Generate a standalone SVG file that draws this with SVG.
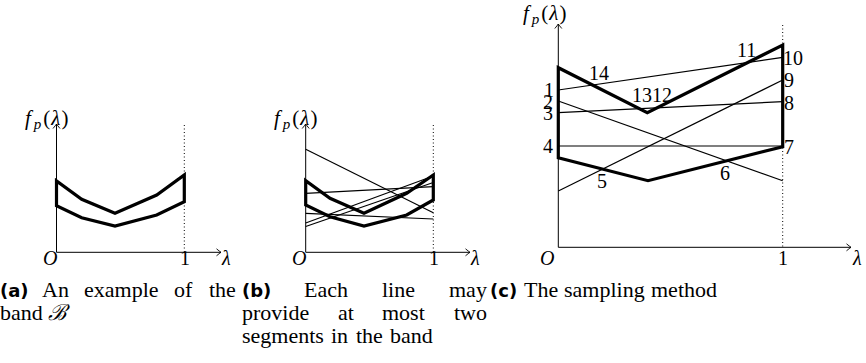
<svg xmlns="http://www.w3.org/2000/svg" width="866" height="363" viewBox="0 0 866 363">
<defs>
<marker id="arr" markerWidth="10" markerHeight="10" refX="0" refY="0" viewBox="-6 -5 8 10" orient="auto" markerUnits="userSpaceOnUse">
<path d="M-4.5,-3.5 Q-1.5,-1 0,0 Q-1.5,1 -4.5,3.5" fill="none" stroke="#000" stroke-width="0.9"/>
</marker>
<style>
.ax{stroke:#000;stroke-width:1;fill:none}
.dot{stroke:#000;stroke-width:1;stroke-dasharray:1 2.5;fill:none}
.thin{stroke:#000;stroke-width:1.2;fill:none}
.thick{stroke:#000;stroke-width:3.2;fill:none;stroke-linejoin:miter}
.lb{font-family:"Liberation Serif",serif;font-size:20px;fill:#000}
.fl{font-family:"Liberation Serif",serif;font-size:21px;fill:#000}
.it{font-style:italic}
.cap{font-family:"Liberation Serif",serif;font-size:22px;fill:#000}
.bf{font-family:"DejaVu Sans","Liberation Sans",sans-serif;font-weight:bold;font-size:18px}
</style>
</defs>

<!-- Panel a -->
<g id="panel-a">
<line class="dot" x1="184.3" y1="125" x2="184.3" y2="252.3"/>
<line class="ax" x1="56.5" y1="252.3" x2="56.5" y2="124" marker-end="url(#arr)"/>
<line class="ax" x1="56.5" y1="252.3" x2="221" y2="252.3" marker-end="url(#arr)"/>
<path class="thick" d="M56.5,205.7 L56.5,181 L81.7,199.3 L115,213.3 L156.7,195 L184.3,175 L184.3,201.7 L156.7,215 L115,226 L81.7,217.7 Z"/>
<text class="fl" x="25" y="125"><tspan class="it">f</tspan><tspan class="it" font-size="15" dx="3" dy="4">p</tspan><tspan dx="2" dy="-4">(</tspan><tspan class="it" dx="1">λ</tspan><tspan dx="1">)</tspan></text>
<text class="lb it" x="43" y="265">O</text>
<text class="lb" x="180" y="265">1</text>
<text class="lb it" x="222" y="265">λ</text>
</g>

<!-- Panel b -->
<g id="panel-b">
<line class="dot" x1="433.3" y1="125" x2="433.3" y2="252.3"/>
<line class="ax" x1="305.7" y1="252.3" x2="305.7" y2="124" marker-end="url(#arr)"/>
<line class="ax" x1="305.7" y1="252.3" x2="470" y2="252.3" marker-end="url(#arr)"/>
<path class="thick" d="M305.7,205 L305.7,180.7 L330,198.3 L364,213.3 L406.7,193.3 L433.3,175 L433.3,200 L406.7,215 L364,226 L330,216.7 Z"/>
<g id="lines-b">
<line class="thin" x1="305.7" y1="149.3" x2="433.3" y2="212.7"/>
<line class="thin" x1="305.7" y1="193.3" x2="433.3" y2="186.7"/>
<line class="thin" x1="305.7" y1="213.3" x2="433.3" y2="219"/>
<line class="thin" x1="305.7" y1="226.5" x2="433.3" y2="182.5"/>
<line class="thin" x1="305.7" y1="223" x2="433.3" y2="176"/>
</g>
<text class="fl" x="274" y="125"><tspan class="it">f</tspan><tspan class="it" font-size="15" dx="3" dy="4">p</tspan><tspan dx="2" dy="-4">(</tspan><tspan class="it" dx="1">λ</tspan><tspan dx="1">)</tspan></text>
<text class="lb it" x="292" y="265">O</text>
<text class="lb" x="429" y="265">1</text>
<text class="lb it" x="471" y="265">λ</text>
</g>

<!-- Panel c -->
<g id="panel-c">
<line class="dot" x1="782.7" y1="25" x2="782.7" y2="247.3"/>
<line class="ax" x1="558.3" y1="247.3" x2="558.3" y2="24" marker-end="url(#arr)"/>
<line class="ax" x1="558.3" y1="247.3" x2="851" y2="247.3" marker-end="url(#arr)"/>
<g id="lines-c">
<line class="thin" x1="558.3" y1="90" x2="782.7" y2="57.3"/>
<line class="thin" x1="558.3" y1="101" x2="782.7" y2="180.7"/>
<line class="thin" x1="558.3" y1="112.7" x2="782.7" y2="101.7"/>
<line class="thin" x1="558.3" y1="191" x2="782.7" y2="80"/>
<line class="thin" x1="558.3" y1="146" x2="782.7" y2="146"/>
</g>
<path class="thick" d="M558.3,157.7 L558.3,67.7 L647.3,112.7 L782.7,45 L782.7,146.7 L648,180.7 Z"/>
<text class="fl" x="523" y="20"><tspan class="it">f</tspan><tspan class="it" font-size="15" dx="3" dy="4">p</tspan><tspan dx="2" dy="-4">(</tspan><tspan class="it" dx="1">λ</tspan><tspan dx="1">)</tspan></text>
<text class="lb it" x="540" y="265">O</text>
<text class="lb" x="778" y="265">1</text>
<text class="lb it" x="853" y="265">λ</text>
<g id="labels-c">
<text class="lb" x="544" y="97">1</text>
<text class="lb" x="543" y="109">2</text>
<text class="lb" x="543" y="120">3</text>
<text class="lb" x="543" y="153">4</text>
<text class="lb" x="597" y="188">5</text>
<text class="lb" x="720" y="180">6</text>
<text class="lb" x="784" y="154">7</text>
<text class="lb" x="784" y="110">8</text>
<text class="lb" x="784" y="87">9</text>
<text class="lb" x="783" y="65">10</text>
<text class="lb" x="737" y="57">11</text>
<text class="lb" x="632" y="102">1312</text>
<text class="lb" x="589" y="80">14</text>
</g>
</g>

<!-- Captions -->
<g id="captions">
<text class="cap" y="297"><tspan class="bf" x="0">(a)</tspan><tspan x="42">An</tspan><tspan x="84">example</tspan><tspan x="174">of</tspan><tspan x="209">the</tspan></text>
<text class="cap" x="0" y="320">band <tspan font-family="'DejaVu Serif',serif" font-style="italic">ℬ</tspan></text>
<text class="cap" y="297"><tspan class="bf" x="242">(b)</tspan><tspan x="304">Each</tspan><tspan x="382">line</tspan><tspan x="449">may</tspan></text>
<text class="cap" y="320"><tspan x="242">provide</tspan><tspan x="338">at</tspan><tspan x="382">most</tspan><tspan x="454">two</tspan></text>
<text class="cap" y="343"><tspan x="242">segments</tspan><tspan x="331">in</tspan><tspan x="356">the</tspan><tspan x="390">band</tspan></text>
<text class="cap" y="297"><tspan class="bf" x="490">(c)</tspan><tspan x="524">The</tspan><tspan x="564">sampling</tspan><tspan x="651">method</tspan></text>
</g>
</svg>
